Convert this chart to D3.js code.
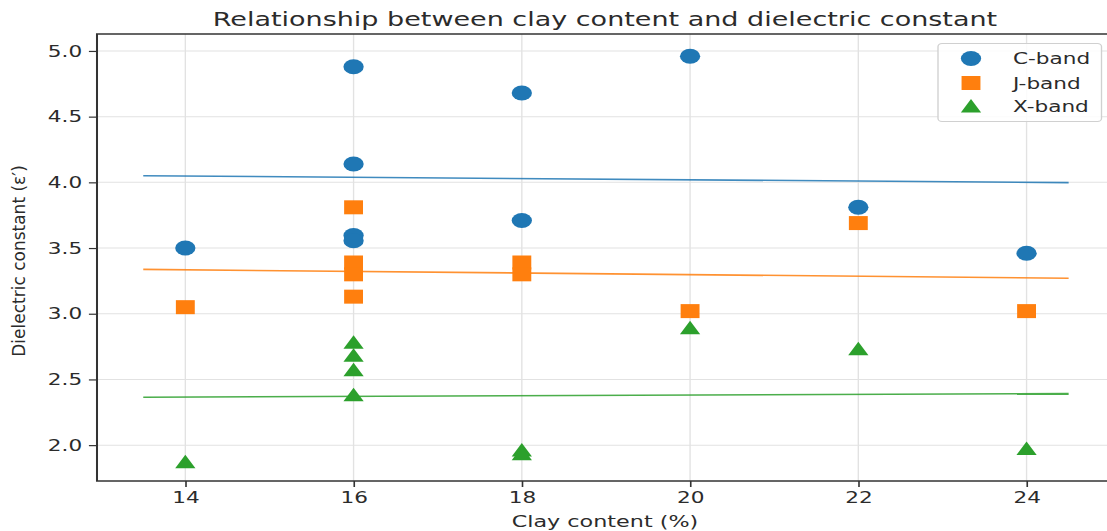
<!DOCTYPE html>
<html>
<head>
<meta charset="utf-8">
<script src="https://cdn.jsdelivr.net/npm/d3@7"></script>
<style>
  html, body { margin: 0; padding: 0; background: #fff; }
  svg { display: block; }
  text { font-family: "DejaVu Sans", sans-serif; fill: #2b2b2b; }
</style>
</head>
<body>
<svg id="chart" width="1107" height="531"></svg>
<script>
// Clay content of each soil sample (%)
const clayContent = [14, 16, 16, 16, 16, 18, 18, 20, 22, 24];

// Measured dielectric constant per band, one value per sample
const cBand = [3.50, 4.88, 4.14, 3.595, 3.555, 4.68, 3.71, 4.96, 3.81, 3.46];
const jBand = [3.05, 3.81, 3.39, 3.30, 3.13, 3.39, 3.30, 3.02, 3.69, 3.02];
const xBand = [1.87, 2.78, 2.68, 2.57, 2.38, 1.96, 1.93, 2.89, 2.73, 1.97];

const seriesNames = ["C-band", "J-band", "X-band"];
const seriesColors = ["#1f77b4", "#ff7f0e", "#2ca02c"];

// Axis ticks and limits
const xTicks = [14, 16, 18, 20, 22, 24];
const yTicks = [2.0, 2.5, 3.0, 3.5, 4.0, 4.5, 5.0];
const xLimits = [12.95, 25.05];
const yLimits = [1.727, 5.129];
const fitRange = [13.5, 24.5];

// The figure is laid out in a narrower frame and widened horizontally
const stretch = 1.35;

const svg = d3.select("#chart");
const fig = svg.append("g").attr("transform", `scale(${stretch},1)`);

const x = d3.scaleLinear().domain(xLimits).range([97 / stretch, 1114.9 / stretch]);
const y = d3.scaleLinear().domain(yLimits).range([481, 34]);

const [x0, x1] = x.range();
const [yb, yt] = y.range();

// Clip for plot contents
fig.append("clipPath").attr("id", "plotClip")
  .append("rect").attr("x", x0).attr("y", yt).attr("width", x1 - x0).attr("height", yb - yt);

// Grid
const grid = fig.append("g").attr("stroke", "#d9d9d9").attr("stroke-width", 1).attr("opacity", 0.75);
grid.selectAll("line.gx").data(xTicks).join("line")
  .attr("x1", d => x(d)).attr("x2", d => x(d)).attr("y1", yt).attr("y2", yb);
grid.selectAll("line.gy").data(yTicks).join("line")
  .attr("x1", x0).attr("x2", x1).attr("y1", d => y(d)).attr("y2", d => y(d));

// Axes
const xAxis = d3.axisBottom(x).tickValues(xTicks).tickFormat(d3.format("d")).tickSize(6).tickPadding(5);
const yAxis = d3.axisLeft(y).tickValues(yTicks).tickFormat(d3.format(".1f")).tickSize(6).tickPadding(5);

const gx = fig.append("g").attr("transform", `translate(0,${yb})`).call(xAxis);
const gy = fig.append("g").attr("transform", `translate(${x0},0)`).call(yAxis);
[gx, gy].forEach(g => {
  g.select(".domain").remove();
  g.selectAll(".tick line").attr("stroke", "#333").attr("stroke-width", 1.2);
  g.selectAll(".tick text").attr("font-size", 16).attr("fill", "#2b2b2b")
    .attr("font-family", "DejaVu Sans, sans-serif");
});

// Spines
fig.append("rect").attr("x", x0).attr("y", yt).attr("width", x1 - x0).attr("height", yb - yt)
  .attr("fill", "none").attr("stroke", "#333").attr("stroke-width", 1.5);

// Least-squares fit lines
function fit(xs, ys) {
  const mx = d3.mean(xs), my = d3.mean(ys);
  let sxy = 0, sxx = 0;
  xs.forEach((v, i) => { sxy += (v - mx) * (ys[i] - my); sxx += (v - mx) * (v - mx); });
  const slope = sxy / sxx;
  return t => my + slope * (t - mx);
}

const bands = [cBand, jBand, xBand];
const plot = fig.append("g").attr("clip-path", "url(#plotClip)");

bands.forEach((vals, i) => {
  const f = fit(clayContent, vals);
  plot.append("line")
    .attr("x1", x(fitRange[0])).attr("y1", y(f(fitRange[0])))
    .attr("x2", x(fitRange[1])).attr("y2", y(f(fitRange[1])))
    .attr("stroke", seriesColors[i]).attr("stroke-width", 1.6).attr("opacity", 0.85);
});

// Marker shapes
const markerPath = [
  d3.symbol().type(d3.symbolCircle).size(Math.PI * 7.5 * 7.5)(),
  "M-7,-7H7V7H-7Z",
  "M0,-7.5L7.5,6L-7.5,6Z"
];

bands.forEach((vals, i) => {
  plot.append("g").selectAll("path").data(vals).join("path")
    .attr("d", markerPath[i])
    .attr("transform", (d, k) => `translate(${x(clayContent[k])},${y(d)})`)
    .attr("fill", seriesColors[i]);
});

// Title and x label
fig.append("text").attr("x", 605 / stretch).attr("y", 26)
  .attr("text-anchor", "middle").attr("font-size", 20)
  .text("Relationship between clay content and dielectric constant");

fig.append("text").attr("x", 605 / stretch).attr("y", 527)
  .attr("text-anchor", "middle").attr("font-size", 16.5)
  .text("Clay content (%)");

// Legend
const legend = fig.append("g");
legend.append("rect")
  .attr("x", 938 / stretch).attr("y", 43.5)
  .attr("width", (1101.5 - 938) / stretch).attr("height", 78)
  .attr("rx", 3).attr("fill", "#fff").attr("fill-opacity", 0.85)
  .attr("stroke", "#d0d0d0").attr("stroke-width", 1);
const legendY = [58.5, 83, 106.5];
seriesNames.forEach((name, i) => {
  legend.append("path").attr("d", markerPath[i])
    .attr("transform", `translate(${971 / stretch},${legendY[i]})`)
    .attr("fill", seriesColors[i]);
  legend.append("text").attr("x", 1013 / stretch).attr("y", legendY[i] + 6)
    .attr("font-size", 16).text(name);
});

// Y label (drawn unstretched)
svg.append("text")
  .attr("transform", "translate(25,261) rotate(-90)")
  .attr("text-anchor", "middle").attr("font-size", 17)
  .text("Dielectric constant (ε′)");
</script>
</body>
</html>
